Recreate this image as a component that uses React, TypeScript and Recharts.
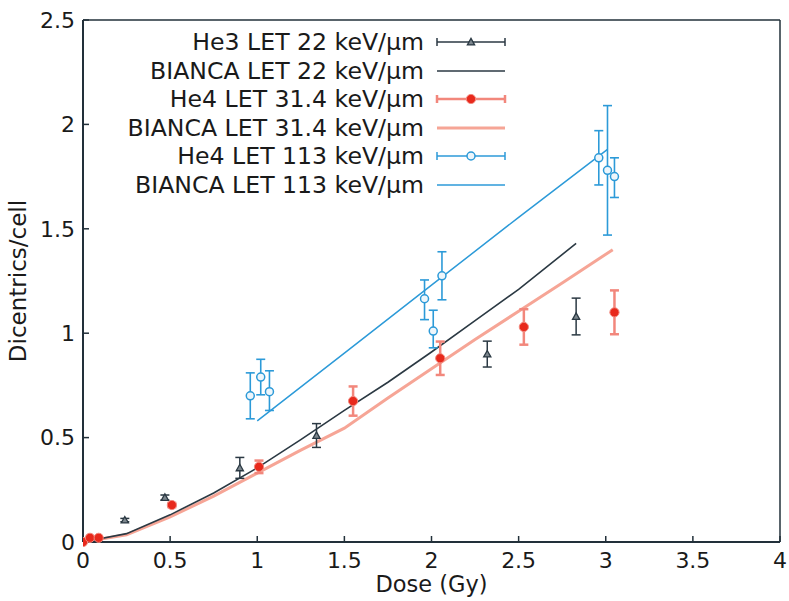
import React from 'react';
import { ComposedChart, Line, Scatter, XAxis, YAxis, ErrorBar } from 'recharts';

// ---- data ----
const xTicks = [0, 0.5, 1, 1.5, 2, 2.5, 3, 3.5, 4];
const yTicks = [0, 0.5, 1, 1.5, 2, 2.5];

const he3Dose = [0.24, 0.47, 0.9, 1.34, 2.32, 2.83];
const he3Val = [0.105, 0.213, 0.355, 0.51, 0.9, 1.08];
const he3Err = [0.008, 0.012, 0.05, 0.057, 0.062, 0.088];

const he4aDose = [0, 0.04, 0.09, 0.51, 1.01, 1.55, 2.05, 2.53, 3.05];
const he4aVal = [0, 0.02, 0.02, 0.177, 0.36, 0.675, 0.88, 1.03, 1.1];
const he4aErr = [0, 0, 0, 0.01, 0.03, 0.07, 0.08, 0.085, 0.105];

const he4bDose = [0.96, 1.02, 1.07, 1.96, 2.01, 2.06, 2.96, 3.01, 3.05];
const he4bVal = [0.7, 0.79, 0.72, 1.165, 1.01, 1.275, 1.84, 1.78, 1.75];
const he4bErrLow = [0.11, 0.085, 0.09, 0.1, 0.08, 0.115, 0.13, 0.31, 0.1];
const he4bErrHigh = [0.11, 0.085, 0.1, 0.09, 0.1, 0.115, 0.13, 0.31, 0.09];

const biancaDose22 = [0, 0.25, 0.5, 0.75, 1, 1.25, 1.5, 1.75, 2, 2.25, 2.5, 2.83];
const bianca22 = [0, 0.04, 0.13, 0.235, 0.355, 0.49, 0.63, 0.765, 0.91, 1.06, 1.21, 1.43];

const biancaDose31 = [0, 0.25, 0.5, 0.75, 1, 1.25, 1.5, 1.75, 2, 2.25, 2.5, 2.75, 3.04];
const bianca31 = [0, 0.035, 0.12, 0.22, 0.33, 0.44, 0.545, 0.69, 0.83, 0.97, 1.105, 1.24, 1.4];

const biancaDose113 = [1.0, 1.5, 2.0, 2.5, 3.01];
const bianca113 = [0.58, 0.905, 1.23, 1.555, 1.88];

const legendLabels = [
  'He3 LET 22 keV/µm',
  'BIANCA LET 22 keV/µm',
  'He4 LET 31.4 keV/µm',
  'BIANCA LET 31.4 keV/µm',
  'He4 LET 113 keV/µm',
  'BIANCA LET 113 keV/µm',
];

// ---- styles ----
const BLACK = '#2b3943';
const RED = '#e8291c';
const RED_ERR = '#f2877c';
const RED_LINE = '#f6a596';
const BLUE = '#2c9ad8';
const FONT = '"DejaVu Sans", Verdana, sans-serif';

const he3Data = he3Dose.map((x, i) => ({ x, y: he3Val[i], err: he3Err[i] }));
const he4aData = he4aDose.map((x, i) => ({ x, y: he4aVal[i], err: he4aErr[i] }));
const he4bData = he4bDose.map((x, i) => ({ x, y: he4bVal[i], err: [he4bErrLow[i], he4bErrHigh[i]] }));
const line22 = biancaDose22.map((x, i) => ({ x, y: bianca22[i] }));
const line31 = biancaDose31.map((x, i) => ({ x, y: bianca31[i] }));
const line113 = biancaDose113.map((x, i) => ({ x, y: bianca113[i] }));

const Triangle = (p: any) => {
  const { cx, cy } = p;
  if (cx == null || cy == null) return <g />;
  const s = 3.6;
  return (
    <polygon
      points={`${cx},${cy - s} ${cx - s},${cy + s * 0.8} ${cx + s},${cy + s * 0.8}`}
      fill="#7d878e"
      stroke={BLACK}
      strokeWidth={1.3}
    />
  );
};
const RedDot = (p: any) => {
  const { cx, cy } = p;
  if (cx == null || cy == null) return <g />;
  return <circle cx={cx} cy={cy} r={4.6} fill={RED} stroke={RED_ERR} strokeWidth={1} />;
};
const BlueCircle = (p: any) => {
  const { cx, cy } = p;
  if (cx == null || cy == null) return <g />;
  return <circle cx={cx} cy={cy} r={4} fill="#eef6fb" stroke={BLUE} strokeWidth={1.5} />;
};

const LegendSample = ({ i }: { i: number }) => {
  const color = i < 2 ? BLACK : i < 4 ? RED_LINE : BLUE;
  const errColor = i < 2 ? BLACK : i < 4 ? RED_ERR : BLUE;
  const isLine = i % 2 === 1;
  return (
    <svg width={80} height={20} style={{ position: 'absolute', left: 434, top: 4 }}>
      {isLine ? (
        <line x1={3} y1={10} x2={71} y2={10} stroke={color} strokeWidth={i === 3 ? 3 : 1.6} />
      ) : (
        <g stroke={errColor} strokeWidth={i === 2 ? 2.5 : 1.5}>
          <line x1={3} y1={10} x2={71} y2={10} />
          <line x1={3} y1={6} x2={3} y2={14} />
          <line x1={71} y1={6} x2={71} y2={14} />
        </g>
      )}
      {i === 0 && <Triangle cx={37} cy={10} />}
      {i === 2 && <RedDot cx={37} cy={10} />}
      {i === 4 && <BlueCircle cx={37} cy={10} />}
    </svg>
  );
};

const YLabel = (props: any) => {
  const vb = props.viewBox || {};
  const x = vb.x + 18;
  const y = vb.y + vb.height / 2;
  return (
    <text
      x={x}
      y={y}
      transform={`rotate(-90, ${x}, ${y})`}
      textAnchor="middle"
      dominantBaseline="central"
      fontFamily={FONT}
      fontSize={23}
      fill="#1a1a1a"
    >
      Dicentrics/cell
    </text>
  );
};
const XLabel = (props: any) => {
  const vb = props.viewBox || {};
  return (
    <text
      x={vb.x + vb.width / 2}
      y={vb.y + 50}
      textAnchor="middle"
      fontFamily={FONT}
      fontSize={22.5}
      fill="#1a1a1a"
    >
      Dose (Gy)
    </text>
  );
};

const tickStyle = { fontFamily: FONT, fontSize: 22, fill: '#1a1a1a' };
const axisLineStyle = { stroke: '#22303a', strokeWidth: 2 };

export default function App() {
  return (
    <div style={{ position: 'absolute', left: 0, top: 0, width: 789, height: 601, background: '#fff' }}>
      <ComposedChart width={789} height={601} margin={{ top: 19, right: 8, bottom: 0, left: 0 }}>
        <XAxis
          dataKey="x"
          type="number"
          domain={[0, 4]}
          ticks={xTicks}
          tickFormatter={(v: number) => String(v)}
          height={59}
          tickSize={-6}
          tickMargin={16}
          tick={tickStyle}
          axisLine={axisLineStyle}
          tickLine={{ stroke: '#22303a', strokeWidth: 1.5 }}
          allowDataOverflow
          label={<XLabel />}
        />
        <XAxis
          xAxisId="top"
          orientation="top"
          dataKey="x"
          type="number"
          domain={[0, 4]}
          ticks={xTicks}
          height={1}
          tickSize={-6}
          tick={false}
          axisLine={{ stroke: '#22303a', strokeWidth: 1.5 }}
          tickLine={{ stroke: '#22303a', strokeWidth: 1.5 }}
        />
        <YAxis
          type="number"
          domain={[0, 2.5]}
          ticks={yTicks}
          tickFormatter={(v: number) => String(v)}
          width={83}
          tickSize={-6}
          tickMargin={14}
          tick={tickStyle}
          axisLine={axisLineStyle}
          tickLine={{ stroke: '#22303a', strokeWidth: 1.5 }}
          label={<YLabel />}
        />
        <YAxis
          yAxisId="right"
          orientation="right"
          type="number"
          domain={[0, 2.5]}
          ticks={yTicks}
          width={1}
          tickSize={-6}
          tick={false}
          axisLine={{ stroke: '#22303a', strokeWidth: 1.5 }}
          tickLine={{ stroke: '#22303a', strokeWidth: 1.5 }}
        />
        <Line data={line31} dataKey="y" stroke={RED_LINE} strokeWidth={3} dot={false} isAnimationActive={false} type="linear" />
        <Line data={line22} dataKey="y" stroke={BLACK} strokeWidth={1.6} dot={false} isAnimationActive={false} type="linear" />
        <Line data={line113} dataKey="y" stroke={BLUE} strokeWidth={1.5} dot={false} isAnimationActive={false} type="linear" />
        <Scatter data={he3Data} dataKey="y" shape={<Triangle />} isAnimationActive={false}>
          <ErrorBar dataKey="err" direction="y" width={4.5} stroke={BLACK} strokeWidth={1.5} />
        </Scatter>
        <Scatter data={he4aData} dataKey="y" shape={<RedDot />} isAnimationActive={false}>
          <ErrorBar dataKey="err" direction="y" width={4.5} stroke={RED_ERR} strokeWidth={2.5} />
        </Scatter>
        <Scatter data={he4bData} dataKey="y" shape={<BlueCircle />} isAnimationActive={false}>
          <ErrorBar dataKey="err" direction="y" width={4.5} stroke={BLUE} strokeWidth={1.6} />
        </Scatter>
      </ComposedChart>
      {legendLabels.map((t, i) => (
        <div
          key={t}
          style={{
            position: 'absolute',
            left: 0,
            top: 28 + i * 28.6,
            width: 530,
            height: 28,
          }}
        >
          <div
            style={{
              position: 'absolute',
              right: 530 - 424,
              top: 0,
              whiteSpace: 'nowrap',
              fontFamily: FONT,
              fontSize: 23.6,
              lineHeight: '28px',
              color: '#1a1a1a',
            }}
          >
            {t}
          </div>
          <LegendSample i={i} />
        </div>
      ))}
    </div>
  );
}
